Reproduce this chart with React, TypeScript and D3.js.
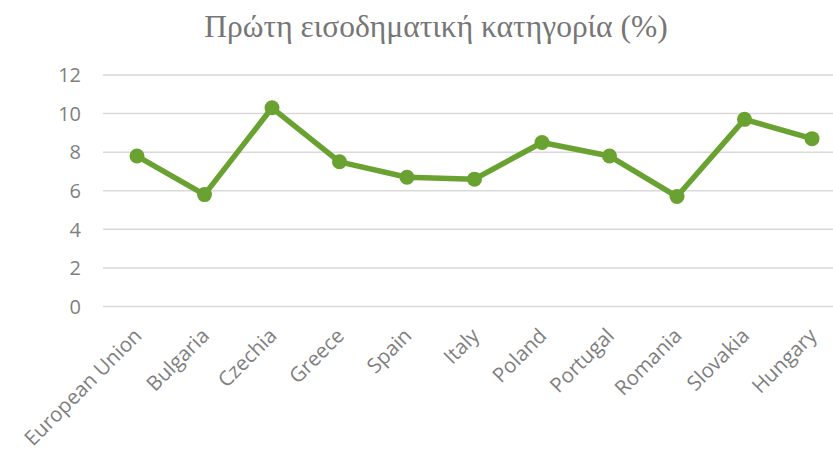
import React from "react";
import * as d3 from "d3";

const categories = ["European Union", "Bulgaria", "Czechia", "Greece", "Spain", "Italy", "Poland", "Portugal", "Romania", "Slovakia", "Hungary"];
const values = [7.8, 5.8, 10.3, 7.5, 6.7, 6.6, 8.5, 7.8, 5.7, 9.7, 8.7];
const yTicks = [0, 2, 4, 6, 8, 10, 12];
const title = "Πρώτη εισοδηματική κατηγορία (%)";

const W = 833;
const H = 451;

export default function App() {
  const x = d3.scalePoint<string>().domain(categories).range([137, 812]);
  const y = d3.scaleLinear().domain([0, 12]).range([306.5, 75]);
  const line = d3.line<number>()
    .x((_, i) => x(categories[i]) as number)
    .y((d) => y(d));
  const gridX0 = 103;
  const gridX1 = 846;
  return (
    <svg width={W} height={H} style={{ position: "absolute", left: 0, top: 0, background: "#fff" }}>
      <text x={436} y={37} textAnchor="middle" fontFamily="'Liberation Serif', serif" fontSize={31.5} fill="#767676">{title}</text>
      {yTicks.map((t) => (
        <g key={t}>
          <line x1={gridX0} x2={gridX1} y1={y(t)} y2={y(t)} stroke="#d9d9d9" strokeWidth={1.5} />
          <text x={81} y={y(t)} dy="0.36em" textAnchor="end" fontFamily="'Open Sans', sans-serif" fontSize={20} fill="#7f7f7f">{t}</text>
        </g>
      ))}
      {categories.map((c) => (
        <text key={c} transform={`translate(${(x(c) as number) + 6},${337}) rotate(-45)`} textAnchor="end" fontFamily="'Open Sans', sans-serif" fontSize={20.5} fill="#7f7f7f">{c}</text>
      ))}
      <path d={line(values) as string} fill="none" stroke="#6aa232" strokeWidth={5.5} strokeLinejoin="round" />
      {values.map((v, i) => (
        <circle key={i} cx={x(categories[i]) as number} cy={y(v)} r={7.5} fill="#6aa232" />
      ))}
    </svg>
  );
}
